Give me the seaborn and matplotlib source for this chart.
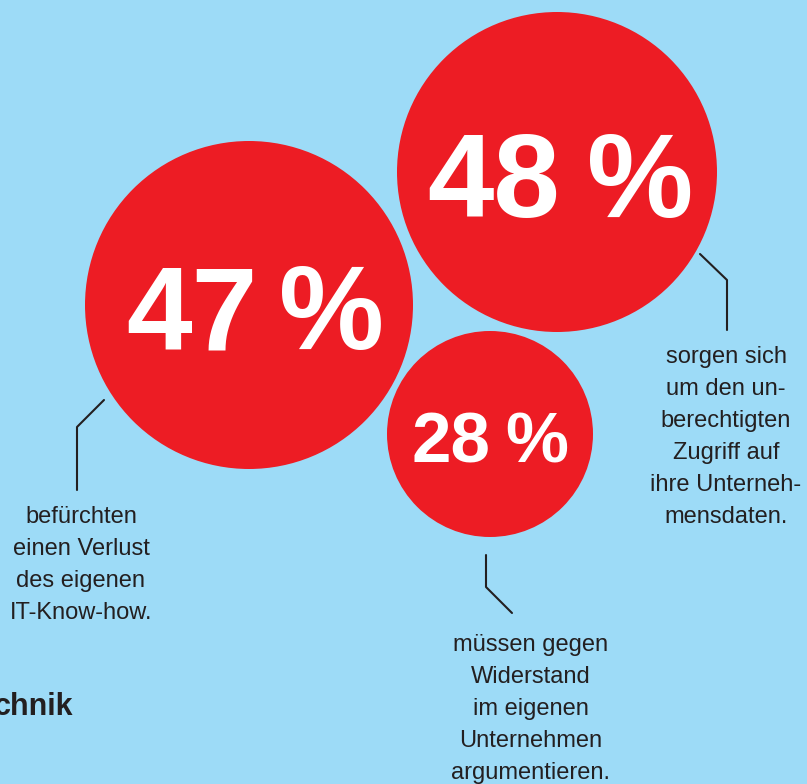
import numpy as np
import pandas as pd
import seaborn as sns
import matplotlib.pyplot as plt
from matplotlib.patches import Circle

# values shown in the bubbles
values = [47, 48, 28]
labels = [
    ["befürchten", "einen Verlust", "des eigenen", "IT-Know-how."],
    ["sorgen sich", "um den un-", "berechtigten", "Zugriff auf", "ihre Unterneh-", "mensdaten."],
    ["müssen gegen", "Widerstand", "im eigenen", "Unternehmen", "argumentieren."],
]
heading = "chnik"

# layout (pixel coords, y downwards)
cx = [249, 557, 490]
cy = [305, 172, 434]
radius = [164, 160, 103]
num_size = [85, 86, 51]
num_base = [349, 217, 462]
num_right = [257, 560, 490]   # right edge of the number
pct_left = [279, 587, 505]    # left edge of the % sign
# leader lines: (x list, y list)
leaders = [
    ([104, 77, 77], [400, 427, 490]),
    ([700, 727, 727], [254, 280, 330]),
    ([486, 486, 512], [555, 587, 613]),
]
label_x = [81, 726, 531]
label_y0 = [523, 363, 651]
line_gap = 32

bg = "#9DDBF7"
red = "#ED1C24"
ink = "#231F20"

sns.set_theme(style="white")
plt.rcParams['font.family'] = ['Liberation Sans', 'DejaVu Sans']

fig = plt.figure(figsize=(8.07, 7.84), dpi=100, facecolor=bg)
ax = fig.add_axes([0, 0, 1, 1])
ax.set_facecolor(bg)
ax.axis("off")

df = pd.DataFrame({"value": values, "x": cx, "y": cy, "r": radius})

for i, row in df.iterrows():
    ax.add_patch(Circle((row["x"], row["y"]), row["r"], color=red, lw=0, zorder=1))
    ax.text(num_right[i], num_base[i], str(row["value"]), ha="right",
            va="baseline", color="white", fontsize=num_size[i], fontweight="bold", zorder=3)
    ax.text(pct_left[i], num_base[i], "%", ha="left",
            va="baseline", color="white", fontsize=num_size[i], fontweight="bold", zorder=3)

for xs, ys in leaders:
    sns.lineplot(x=xs, y=ys, ax=ax, color=ink, lw=1.5, sort=False,
                 estimator=None, zorder=2)

for i, lines in enumerate(labels):
    for k, line in enumerate(lines):
        ax.text(label_x[i], label_y0[i] + k * line_gap, line, ha="center",
                va="baseline", color=ink, fontsize=17)

ax.text(73, 715, heading, ha="right", va="baseline", color=ink,
        fontsize=22, fontweight="bold")

ax.set_xlim(0, 807)
ax.set_ylim(784, 0)
ax.set_aspect("equal")
ax.set_xlabel("")
ax.set_ylabel("")
fig.savefig("out.png", dpi=100, facecolor=bg)
